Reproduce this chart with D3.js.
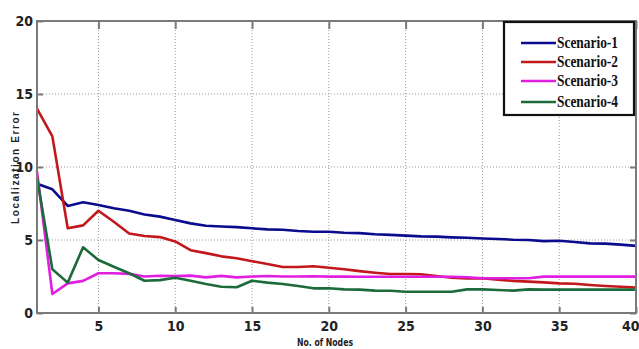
<!DOCTYPE html>
<html><head><meta charset="utf-8">
<script src="https://cdn.jsdelivr.net/npm/d3@7/dist/d3.min.js"></script>
<style>
html,body{margin:0;padding:0;background:#fff;}
svg{display:block;}
.tick text{font-family:"Liberation Sans Narrow","DejaVu Sans Condensed",sans-serif;font-weight:bold;font-size:14px;fill:#222;}
</style></head>
<body><svg id="c" width="639" height="349"></svg>
<script>
const nodes = d3.range(1, 41);
const scenario1 = [8.85,8.47,7.33,7.58,7.4,7.17,7.0,6.75,6.6,6.37,6.14,5.98,5.92,5.88,5.8,5.73,5.7,5.62,5.57,5.56,5.5,5.47,5.39,5.35,5.3,5.25,5.23,5.18,5.15,5.1,5.07,5.02,5.0,4.92,4.95,4.86,4.77,4.75,4.68,4.6];
const scenario2 = [14.0,12.1,5.8,6.0,7.0,6.25,5.45,5.27,5.2,4.9,4.3,4.1,3.88,3.75,3.55,3.35,3.15,3.15,3.2,3.1,3.0,2.87,2.76,2.67,2.67,2.65,2.53,2.42,2.37,2.38,2.28,2.2,2.15,2.1,2.03,2.0,1.92,1.85,1.8,1.75];
const scenario3 = [9.7,1.3,2.03,2.2,2.72,2.72,2.68,2.5,2.55,2.53,2.56,2.44,2.54,2.44,2.5,2.53,2.5,2.5,2.52,2.49,2.49,2.48,2.48,2.48,2.48,2.48,2.48,2.48,2.45,2.38,2.38,2.38,2.38,2.49,2.49,2.49,2.49,2.49,2.49,2.49];
const scenario4 = [9.3,3.0,2.08,4.5,3.63,3.17,2.72,2.21,2.25,2.42,2.21,1.99,1.8,1.76,2.21,2.08,1.99,1.85,1.69,1.69,1.62,1.6,1.53,1.52,1.46,1.46,1.46,1.46,1.62,1.62,1.58,1.53,1.62,1.6,1.6,1.6,1.6,1.6,1.6,1.6];
const seriesNames = ["Scenario-1","Scenario-2","Scenario-3","Scenario-4"];
const seriesColors = ["#0b0b8e","#c2181c","#e01fe0","#1d6b3b"];
const xTicks = [5,10,15,20,25,30,35,40];
const yTicks = [0,5,10,15,20];
const xLabel = "No. of Nodes";
const yLabel = "Localization Error";

const svg = d3.select("#c");
const L = 37, R = 636, T = 21, B = 313;
const x = d3.scaleLinear().domain([1,40]).range([L,R]);
const y = d3.scaleLinear().domain([0,20]).range([B,T]);

// grid
const g = svg.append("g");
g.selectAll(".gx").data(xTicks.filter(t=>t<40)).enter().append("line")
  .attr("x1",d=>x(d)).attr("x2",d=>x(d)).attr("y1",T).attr("y2",B)
  .attr("stroke","#9a9a9a").attr("stroke-width",1).attr("stroke-dasharray","1,2");
g.selectAll(".gy").data(yTicks.filter(t=>t>0&&t<20)).enter().append("line")
  .attr("x1",L).attr("x2",R).attr("y1",d=>y(d)).attr("y2",d=>y(d))
  .attr("stroke","#9a9a9a").attr("stroke-width",1).attr("stroke-dasharray","1,2");

// lines
const series = [scenario1,scenario2,scenario3,scenario4];
const line = d3.line().x((d,i)=>x(nodes[i])).y(d=>y(d));
series.forEach((s,k)=>{
  svg.append("path").datum(s).attr("d",line).attr("fill","none")
    .attr("stroke",seriesColors[k]).attr("stroke-width",2.6).attr("stroke-linejoin","round");
});

// frame
svg.append("rect").attr("x",L).attr("y",T).attr("width",R-L).attr("height",B-T)
  .attr("fill","none").attr("stroke","#7a7a7a").attr("stroke-width",2);

// axes
const xAxis = d3.axisBottom(x).tickValues(xTicks).tickSize(-6).tickPadding(8).tickFormat(d3.format("d"));
const ax = svg.append("g").attr("transform",`translate(0,${B})`).call(xAxis);
ax.select(".domain").remove();
ax.selectAll(".tick line").attr("stroke","#7a7a7a").attr("stroke-width",2);
ax.selectAll(".tick text").filter(d=>d===40).attr("text-anchor","end").attr("dx","3");
const xTop = d3.axisTop(x).tickValues(xTicks).tickSize(-8).tickFormat("");
const axt = svg.append("g").attr("transform",`translate(0,${T})`).call(xTop);
axt.select(".domain").remove();
axt.selectAll(".tick line").attr("stroke","#7a7a7a").attr("stroke-width",2);

const yAxis = d3.axisLeft(y).tickValues(yTicks).tickSize(-6).tickPadding(4).tickFormat(d3.format("d"));
const ay = svg.append("g").attr("transform",`translate(${L},0)`).call(yAxis);
ay.select(".domain").remove();
ay.selectAll(".tick line").attr("stroke","#7a7a7a").attr("stroke-width",2);
const yRight = d3.axisRight(y).tickValues(yTicks).tickSize(-6).tickFormat("");
const ayr = svg.append("g").attr("transform",`translate(${R},0)`).call(yRight);
ayr.select(".domain").remove();
ayr.selectAll(".tick line").attr("stroke","#7a7a7a").attr("stroke-width",2);

// axis labels
svg.append("text").attr("x",325).attr("y",346).attr("text-anchor","middle")
  .attr("textLength",56).attr("lengthAdjust","spacingAndGlyphs")
  .style("font-family",'"Liberation Sans Narrow","DejaVu Sans Condensed",sans-serif')
  .style("font-weight","bold").style("font-size","11px").attr("fill","#222").text(xLabel);
svg.append("text").attr("transform","translate(19,168) rotate(-90)").attr("text-anchor","middle")
  .attr("textLength",112).attr("lengthAdjust","spacing")
  .style("font-family",'"Liberation Sans","DejaVu Sans",sans-serif')
  .style("font-weight","bold").style("font-size","10px").attr("fill","#222").text(yLabel);

// legend
const lg = svg.append("g");
lg.append("rect").attr("x",504).attr("y",22).attr("width",130).attr("height",93)
  .attr("fill","#fff").attr("stroke","#111").attr("stroke-width",2.2);
const rowsY = [43,62,81,102];
seriesNames.forEach((n,k)=>{
  lg.append("line").attr("x1",521).attr("x2",556).attr("y1",rowsY[k]).attr("y2",rowsY[k])
    .attr("stroke",seriesColors[k]).attr("stroke-width",2.6);
  lg.append("text").attr("x",557).attr("y",rowsY[k]+5).attr("textLength",61).attr("lengthAdjust","spacingAndGlyphs")
    .style("font-family",'"Liberation Serif","DejaVu Serif",serif').style("font-weight","bold")
    .style("font-size","16px").attr("fill","#111").text(n);
});
</script></body></html>
